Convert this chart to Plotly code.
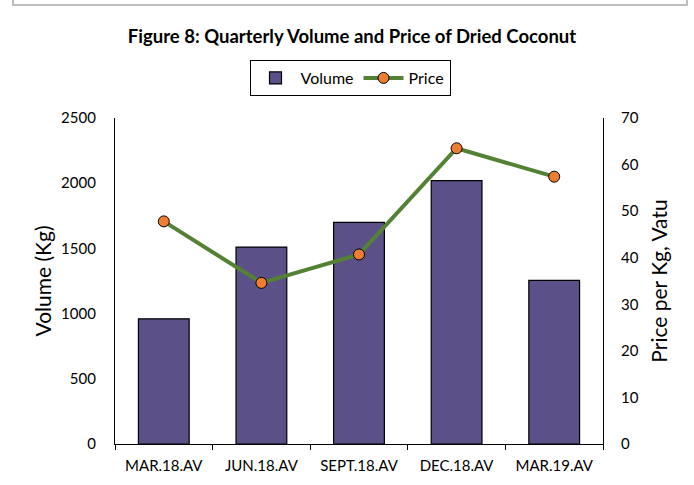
import plotly.graph_objects as go

categories = ["MAR.18.AV", "JUN.18.AV", "SEPT.18.AV", "DEC.18.AV", "MAR.19.AV"]
volume = [960, 1510, 1700, 2020, 1255]
price = [47.8, 34.6, 40.7, 63.5, 57.4]

FONT = "Lato"

fig = go.Figure()
fig.add_trace(go.Bar(
    x=categories, y=volume, name="Volume",
    marker=dict(color="#5B5087", line=dict(color="#000000", width=1.2)),
    yaxis="y",
))
fig.add_trace(go.Scatter(
    x=categories, y=price, name="Price", mode="lines+markers",
    line=dict(color="#548235", width=4),
    marker=dict(color="#ED7D31", size=11, line=dict(color="#000000", width=1)),
    yaxis="y2",
))

L, R, T, B = 115, 91, 118, 41
W, H = 694, 485
pw = W - L - R
ph = H - T - B

def px(x):
    return (x - L) / pw

def py(y):
    return (H - B - y) / ph

fig.update_layout(
    width=W, height=H,
    margin=dict(l=L, r=R, t=T, b=B, pad=0),
    paper_bgcolor="white", plot_bgcolor="white",
    font=dict(family=FONT, size=15, color="#000000"),
    title=dict(text="<b>Figure 8: Quarterly Volume and Price of Dried Coconut</b>",
               x=px(352), xref="paper", xanchor="center",
               y=1 - 37 / H, yanchor="middle", font=dict(size=18.5, family=FONT)),
    bargap=0.48,
    showlegend=True,
    legend=dict(orientation="h", x=px(350), xanchor="center", y=py(78), yanchor="middle",
                bordercolor="#000000", borderwidth=1, bgcolor="white",
                font=dict(size=16, family=FONT), itemwidth=40, traceorder="normal"),
    xaxis=dict(type="category", showline=True, linecolor="#000000", linewidth=1.2,
               ticks="outside", tickson="boundaries", ticklen=5, tickcolor="#000000",
               ticklabelstandoff=8,
               showgrid=False, tickfont=dict(size=15), mirror=False),
    yaxis=dict(range=[0, 2500], dtick=500, showline=True, linecolor="#000000", linewidth=1.2,
               showgrid=False, zeroline=False, ticks="", ticklabelstandoff=15,
               tickfont=dict(size=15),
               title=dict(text="Volume (Kg)", font=dict(size=21), standoff=3)),
    yaxis2=dict(range=[0, 70], dtick=10, overlaying="y", side="right", showline=True,
                linecolor="#000000", linewidth=1.2, showgrid=False, zeroline=False,
                ticks="", ticklabelstandoff=14, tickfont=dict(size=15),
                title=dict(text="Price per Kg, Vatu", font=dict(size=21), standoff=14)),
    shapes=[
        dict(type="path", xref="paper", yref="paper",
             path=f"M {px(13)},{py(-20)} L {px(13)},{py(5)} L {px(687)},{py(5)} L {px(687)},{py(-20)}",
             line=dict(color="#BDBDBD", width=2)),
    ],
)

fig.write_html("out.html", config={"displayModeBar": False},
               post_script="document.body.style.margin='0';document.body.style.overflow='hidden';")
